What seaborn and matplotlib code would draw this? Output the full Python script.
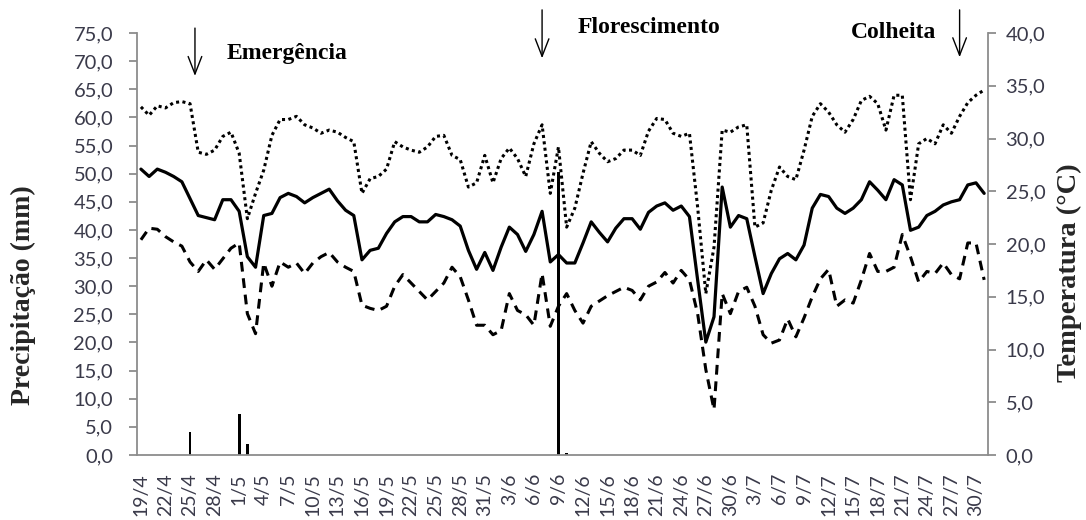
import numpy as np
import pandas as pd
import matplotlib
matplotlib.use("Agg")
import matplotlib.pyplot as plt
import matplotlib.transforms as mtransforms
from matplotlib.ticker import FuncFormatter
import seaborn as sns

# ---------------- data ----------------
tick_labels = ["19/4", "22/4", "25/4", "28/4", "1/5", "4/5", "7/5", "10/5", "13/5",
               "16/5", "19/5", "22/5", "25/5", "28/5", "31/5", "3/6", "6/6", "9/6",
               "12/6", "15/6", "18/6", "21/6", "24/6", "27/6", "30/6", "3/7", "6/7",
               "9/7", "12/7", "15/7", "18/7", "21/7", "24/7", "27/7", "30/7"]

# daily maximum temperature (degC), 19/4 .. 31/7
t_max = [33.0, 32.2, 33.1, 32.9, 33.4, 33.5, 33.3, 28.7, 28.5, 28.9,
         30.2, 30.6, 28.6, 22.4, 24.8, 27.0, 30.3, 31.8, 31.8, 32.1,
         31.3, 31.0, 30.5, 30.8, 30.6, 30.1, 29.7, 24.8, 26.2, 26.4,
         27.1, 29.7, 29.2, 28.9, 28.7, 29.2, 30.2, 30.3, 28.4, 28.0,
         25.4, 25.8, 28.4, 25.8, 28.1, 29.1, 28.1, 26.4, 29.5, 31.3,
         24.8, 29.2, 21.6, 23.4, 26.7, 29.7, 28.6, 27.8, 28.1, 28.9,
         28.9, 28.4, 30.7, 31.9, 31.8, 30.5, 30.2, 30.5, 23.5, 15.3,
         19.7, 30.8, 30.6, 31.1, 31.3, 21.6, 22.0, 25.1, 27.3, 26.4,
         26.1, 28.9, 32.1, 33.3, 32.5, 31.3, 30.6, 31.8, 33.6, 34.0,
         33.3, 30.8, 34.1, 34.1, 24.2, 29.5, 30.0, 29.5, 31.3, 30.5,
         32.1, 33.4, 34.1, 34.6]

# daily mean temperature (degC)
t_mean = [27.1, 26.4, 27.1, 26.8, 26.4, 25.9, 24.3, 22.7, 22.5, 22.3,
          24.2, 24.2, 23.1, 18.8, 17.8, 22.7, 22.9, 24.4, 24.8, 24.5,
          23.9, 24.4, 24.8, 25.2, 24.1, 23.2, 22.7, 18.5, 19.4, 19.6,
          21.0, 22.1, 22.6, 22.6, 22.1, 22.1, 22.8, 22.6, 22.3, 21.7,
          19.4, 17.6, 19.2, 17.5, 19.7, 21.6, 20.9, 19.3, 20.9, 23.1,
          18.3, 19.0, 18.2, 18.2, 20.1, 22.1, 21.1, 20.2, 21.5, 22.4,
          22.4, 21.4, 23.0, 23.6, 23.9, 23.2, 23.6, 22.6, 16.6, 10.7,
          13.1, 25.4, 21.6, 22.7, 22.4, 18.8, 15.3, 17.2, 18.6, 19.1,
          18.5, 19.9, 23.4, 24.7, 24.5, 23.4, 22.9, 23.4, 24.2, 25.9,
          25.1, 24.2, 26.1, 25.6, 21.3, 21.6, 22.7, 23.1, 23.7, 24.0,
          24.2, 25.6, 25.8, 24.8]

# daily minimum temperature (degC)
t_min = [20.4, 21.5, 21.4, 20.7, 20.2, 19.8, 18.3, 17.4, 18.5, 17.6,
         18.6, 19.6, 20.1, 13.4, 11.5, 18.2, 16.0, 18.3, 17.8, 18.2,
         17.2, 18.2, 18.8, 19.2, 18.3, 17.8, 17.4, 14.2, 13.9, 13.7,
         14.1, 16.0, 17.1, 16.3, 15.5, 14.7, 15.5, 16.3, 17.8, 16.9,
         14.7, 12.3, 12.3, 11.4, 11.8, 15.3, 13.7, 13.3, 12.3, 17.2,
         12.2, 14.1, 15.3, 13.7, 12.5, 14.1, 14.6, 15.1, 15.5, 15.9,
         15.6, 14.7, 16.0, 16.4, 17.3, 16.3, 17.5, 16.6, 13.4, 8.1,
         4.3, 15.3, 13.4, 15.5, 15.9, 14.1, 11.4, 10.6, 10.9, 12.9,
         11.2, 13.0, 15.0, 16.7, 17.6, 14.1, 14.7, 14.4, 16.6, 19.1,
         17.4, 17.4, 17.8, 20.9, 18.8, 16.4, 17.4, 17.2, 18.2, 17.1,
         16.7, 20.1, 20.1, 16.6]

# daily precipitation (mm)
precip = [0.0] * 104
precip[6] = 4.0
precip[12] = 7.3
precip[13] = 1.9
precip[51] = 50.3
precip[52] = 0.3

stage_names = ["Emergência", "Florescimento", "Colheita"]
stage_days = [6.6, 49, 100]

# ---------------- figure ----------------
sns.set_style("white")
plt.rcParams["font.family"] = ["Lato", "DejaVu Sans"]

n = len(t_max)
day = np.arange(n)
df = pd.DataFrame({"day": day, "tmax": t_max, "tmean": t_mean,
                   "tmin": t_min, "precip": precip})

fig = plt.figure(figsize=(10.86, 5.2), dpi=100)
ax = fig.add_axes([0.126, 0.125, 0.784, 0.8115])
ax2 = ax.twinx()

sns.barplot(data=df, x="day", y="precip", native_scale=True, width=0.35,
            color="black", saturation=1, linewidth=0, errorbar=None, ax=ax)

sns.lineplot(data=df, x="day", y="tmax", ax=ax2, color="black", lw=2.2,
             linestyle=(0, (1, 1.1)))
sns.lineplot(data=df, x="day", y="tmean", ax=ax2, color="black", lw=2.3)
sns.lineplot(data=df, x="day", y="tmin", ax=ax2, color="black", lw=2.2,
             linestyle=(0, (3.2, 2.2)))

gray = "#8c8c8c"
txtc = "#3a3a4a"
for a in (ax, ax2):
    a.set_xlim(-0.5, n - 0.5)
    for s in a.spines.values():
        s.set_visible(False)

ax.set_ylim(0, 75)
ax2.set_ylim(0, 40)
ax.set_yticks(np.arange(0, 75.1, 5))
ax2.set_yticks(np.arange(0, 40.1, 5))
fmt = FuncFormatter(lambda v, p: f"{v:.1f}".replace(".", ","))
ax.yaxis.set_major_formatter(fmt)
ax2.yaxis.set_major_formatter(fmt)

ax.spines["left"].set_visible(True)
ax.spines["left"].set_color(gray)
ax.spines["bottom"].set_visible(True)
ax.spines["bottom"].set_color(gray)
ax2.spines["right"].set_visible(True)
ax2.spines["right"].set_color(gray)
for a in (ax, ax2):
    for s in a.spines.values():
        s.set_linewidth(1.3)

ax.set_xticks(np.arange(0, n, 3))
ax.set_xticklabels(tick_labels, rotation=90)
ax.set_xticks(np.arange(-0.5, n, 3), minor=True)
ax.tick_params(axis="x", which="major", length=0, pad=13, labelsize=14,
               labelcolor=txtc)
ax.tick_params(axis="x", which="minor", length=6, width=1.3, color=gray,
               direction="out")
ax.tick_params(axis="y", length=6, width=1.3, color=gray, direction="out",
               labelsize=14.5, labelcolor=txtc, left=True, pad=11)
ax2.tick_params(axis="y", length=6, width=1.3, color=gray, direction="out",
                labelsize=14.5, labelcolor=txtc, right=True, pad=6.5)

serif = ["Liberation Serif", "DejaVu Serif"]
ax.set_xlabel("")
ax.set_ylabel("Precipitação (mm)", fontsize=20, fontweight="bold",
              family=serif)
ax.yaxis.set_label_coords(-0.119, 0.379)
ax2.set_ylabel("Temperatura (°C)", fontsize=20.5, fontweight="bold",
               family=serif)
ax2.yaxis.set_label_coords(1.080, 0.431)

# phenological stage markers
trans = mtransforms.blended_transform_factory(ax.transData, fig.transFigure)
arrow_tops = [0.946, 0.981, 0.981]
arrow_bottoms = [0.854, 0.888, 0.890]
text_x = [10.5, 53.4, 86.7]
text_y = [0.898, 0.948, 0.937]
for name, d, yt, yb, tx, ty in zip(stage_names, stage_days, arrow_tops,
                                    arrow_bottoms, text_x, text_y):
    ax.annotate("", xy=(d, yb), xytext=(d, yt), xycoords=trans,
                textcoords=trans, annotation_clip=False,
                arrowprops=dict(arrowstyle="->,head_length=0.9,head_width=0.35",
                                color="black", lw=1.0, mutation_scale=14,
                                shrinkA=0, shrinkB=0))
    ax.text(tx, ty, name, transform=trans, fontsize=17, fontweight="bold",
            family=serif, ha="left", va="center", color="black")

fig.savefig("out.png", dpi=100)
